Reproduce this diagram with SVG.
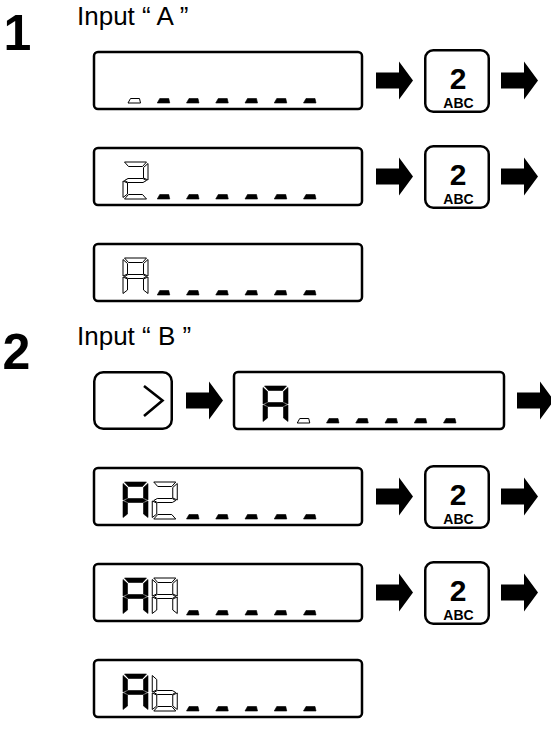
<svg xmlns="http://www.w3.org/2000/svg" xmlns:xlink="http://www.w3.org/1999/xlink" width="551" height="731" viewBox="0 0 551 731">
<style>
.box{fill:#fff;stroke:#000;stroke-width:2.5}
.key{fill:#fff;stroke:#000;stroke-width:2.5}
.on{fill:#000;stroke:#000;stroke-width:0.6;stroke-linejoin:round}
.hl{fill:#fff;stroke:#000;stroke-width:1;stroke-linejoin:round}
.step{font-family:"Liberation Sans",Arial,sans-serif;font-weight:bold;font-size:50px;fill:#000}
.title{font-family:"Liberation Sans",Arial,sans-serif;font-size:26px;fill:#000}
.k2{font-family:"Liberation Sans",Arial,sans-serif;font-weight:bold;font-size:30px;fill:#000;text-anchor:middle}
.kabc{font-family:"Liberation Sans",Arial,sans-serif;font-weight:bold;font-size:14px;fill:#000;text-anchor:middle}
.arr{fill:#000}
</style>
<defs>
<polygon id="sa" points="1.5,0 23.5,0 19.5,4.5 5.5,4.5"/>
<polygon id="sf" points="0,1.5 4.5,5.5 4.5,16 0,18"/>
<polygon id="sb" points="25,1.5 25,18 20.5,16 20.5,5.5"/>
<polygon id="sg" points="1.5,18.5 5,16.5 20,16.5 23.5,18.5 20,20.5 5,20.5"/>
<polygon id="se" points="0,19 4.5,21 4.5,32 0,35.5"/>
<polygon id="sc" points="25,19 25,35.5 20.5,32 20.5,21"/>
<polygon id="sd" points="5.5,32.5 19.5,32.5 23.5,37 1.5,37"/>
<g id="dA"><use xlink:href="#sa"/><use xlink:href="#sf"/><use xlink:href="#sb"/><use xlink:href="#sg"/><use xlink:href="#se"/><use xlink:href="#sc"/></g>
<g id="d2"><use xlink:href="#sa"/><use xlink:href="#sb"/><use xlink:href="#sg"/><use xlink:href="#se"/><use xlink:href="#sd"/></g>
<g id="db"><use xlink:href="#sf"/><use xlink:href="#se"/><use xlink:href="#sg"/><use xlink:href="#sc"/><use xlink:href="#sd"/></g>
<polygon id="dash" points="7.5,32.5 16.5,32.5 17.5,37 5,37"/>
<path id="arrow" d="M0,-8 H23 V-19 L37,0 L23,19 V8 H0 Z"/>
</defs>

<g id="step1-label">
<text class="step" x="3.5" y="50">1</text>
<text class="title" x="77" y="25">Input “ A ”</text>
</g>

<g id="s1-display1">
<rect class="box" x="94" y="52" width="268" height="57" rx="4"/>
<use xlink:href="#dash" class="hl" x="123" y="66"/>
<use xlink:href="#dash" class="on" x="152.25" y="66"/>
<use xlink:href="#dash" class="on" x="181.5" y="66"/>
<use xlink:href="#dash" class="on" x="210.75" y="66"/>
<use xlink:href="#dash" class="on" x="240" y="66"/>
<use xlink:href="#dash" class="on" x="269.25" y="66"/>
<use xlink:href="#dash" class="on" x="298.5" y="66"/>
</g>
<g id="s1-key1">
<rect class="key" x="425.25" y="50.25" width="63.5" height="61.5" rx="8"/>
<text class="k2" x="458" y="88.5">2</text>
<text class="kabc" x="458.5" y="107.5">ABC</text>
</g>

<g id="s1-display2">
<rect class="box" x="94" y="148" width="268" height="57" rx="4"/>
<use xlink:href="#d2" class="hl" x="123" y="162"/>
<use xlink:href="#dash" class="on" x="152.25" y="162"/>
<use xlink:href="#dash" class="on" x="181.5" y="162"/>
<use xlink:href="#dash" class="on" x="210.75" y="162"/>
<use xlink:href="#dash" class="on" x="240" y="162"/>
<use xlink:href="#dash" class="on" x="269.25" y="162"/>
<use xlink:href="#dash" class="on" x="298.5" y="162"/>
</g>
<g id="s1-key2">
<rect class="key" x="425.25" y="146.25" width="63.5" height="61.5" rx="8"/>
<text class="k2" x="458" y="184.5">2</text>
<text class="kabc" x="458.5" y="203.5">ABC</text>
</g>

<g id="s1-display3">
<rect class="box" x="94" y="244" width="268" height="57" rx="4"/>
<use xlink:href="#dA" class="hl" x="123" y="258"/>
<use xlink:href="#dash" class="on" x="152.25" y="258"/>
<use xlink:href="#dash" class="on" x="181.5" y="258"/>
<use xlink:href="#dash" class="on" x="210.75" y="258"/>
<use xlink:href="#dash" class="on" x="240" y="258"/>
<use xlink:href="#dash" class="on" x="269.25" y="258"/>
<use xlink:href="#dash" class="on" x="298.5" y="258"/>
</g>

<g id="step2-label">
<text class="step" x="2.5" y="369">2</text>
<text class="title" x="77" y="345">Input “ B ”</text>
</g>

<g id="s2-keyright">
<rect class="key" x="94.25" y="372.25" width="77.5" height="56.5" rx="9"/>
<polyline points="144,386 162.5,400.5 144,416" fill="none" stroke="#000" stroke-width="2.6" stroke-linejoin="miter"/>
</g>

<g id="s2-display1">
<rect class="box" x="234" y="372" width="270" height="57" rx="4"/>
<use xlink:href="#dA" class="on" x="263" y="386"/>
<use xlink:href="#dash" class="hl" x="292.25" y="386"/>
<use xlink:href="#dash" class="on" x="321.5" y="386"/>
<use xlink:href="#dash" class="on" x="350.75" y="386"/>
<use xlink:href="#dash" class="on" x="380" y="386"/>
<use xlink:href="#dash" class="on" x="409.25" y="386"/>
<use xlink:href="#dash" class="on" x="438.5" y="386"/>
</g>

<g id="s2-display2">
<rect class="box" x="94" y="468" width="268" height="57" rx="4"/>
<use xlink:href="#dA" class="on" x="123" y="482"/>
<use xlink:href="#d2" class="hl" x="152.25" y="482"/>
<use xlink:href="#dash" class="on" x="181.5" y="482"/>
<use xlink:href="#dash" class="on" x="210.75" y="482"/>
<use xlink:href="#dash" class="on" x="240" y="482"/>
<use xlink:href="#dash" class="on" x="269.25" y="482"/>
<use xlink:href="#dash" class="on" x="298.5" y="482"/>
</g>
<g id="s2-key1">
<rect class="key" x="425.25" y="466.25" width="63.5" height="61.5" rx="8"/>
<text class="k2" x="458" y="504.5">2</text>
<text class="kabc" x="458.5" y="523.5">ABC</text>
</g>

<g id="s2-display3">
<rect class="box" x="94" y="564" width="268" height="57" rx="4"/>
<use xlink:href="#dA" class="on" x="123" y="578"/>
<use xlink:href="#dA" class="hl" x="152.25" y="578"/>
<use xlink:href="#dash" class="on" x="181.5" y="578"/>
<use xlink:href="#dash" class="on" x="210.75" y="578"/>
<use xlink:href="#dash" class="on" x="240" y="578"/>
<use xlink:href="#dash" class="on" x="269.25" y="578"/>
<use xlink:href="#dash" class="on" x="298.5" y="578"/>
</g>
<g id="s2-key2">
<rect class="key" x="425.25" y="562.25" width="63.5" height="61.5" rx="8"/>
<text class="k2" x="458" y="600.5">2</text>
<text class="kabc" x="458.5" y="619.5">ABC</text>
</g>

<g id="s2-display4">
<rect class="box" x="94" y="660" width="268" height="57" rx="4"/>
<use xlink:href="#dA" class="on" x="123" y="674"/>
<use xlink:href="#db" class="hl" x="152.25" y="674"/>
<use xlink:href="#dash" class="on" x="181.5" y="674"/>
<use xlink:href="#dash" class="on" x="210.75" y="674"/>
<use xlink:href="#dash" class="on" x="240" y="674"/>
<use xlink:href="#dash" class="on" x="269.25" y="674"/>
<use xlink:href="#dash" class="on" x="298.5" y="674"/>
</g>

<g id="connectors" class="arr">
<use xlink:href="#arrow" x="376" y="80.5"/>
<use xlink:href="#arrow" x="501" y="80.5"/>
<use xlink:href="#arrow" x="376" y="176.5"/>
<use xlink:href="#arrow" x="501" y="176.5"/>
<use xlink:href="#arrow" x="186" y="400.5"/>
<use xlink:href="#arrow" x="517" y="400.5"/>
<use xlink:href="#arrow" x="376" y="496.5"/>
<use xlink:href="#arrow" x="501" y="496.5"/>
<use xlink:href="#arrow" x="376" y="592.5"/>
<use xlink:href="#arrow" x="501" y="592.5"/>
</g>
</svg>
